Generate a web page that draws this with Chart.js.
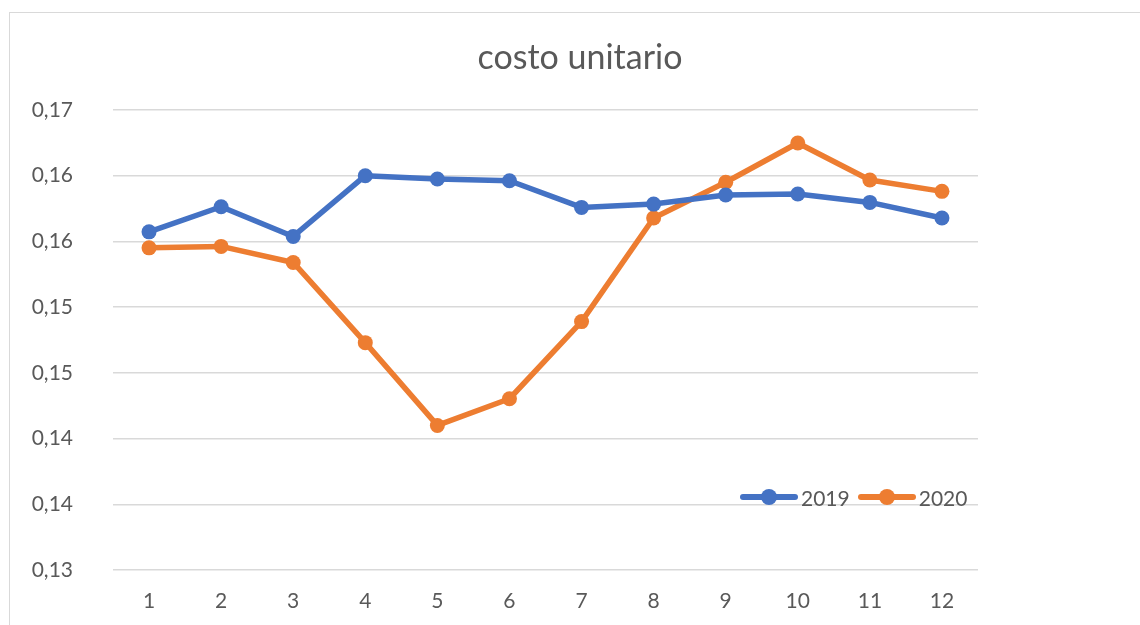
<!DOCTYPE html>
<html>
<head>
<meta charset="utf-8">
<script src="https://cdn.jsdelivr.net/npm/chart.js@4/dist/chart.umd.min.js"></script>
<style>
  html, body { margin: 0; padding: 0; background: #fff; }
  #wrap { position: relative; width: 1140px; height: 625px; overflow: hidden; font-family: Lato, "Open Sans", sans-serif; }
  #frame { position: absolute; left: 9px; top: 12px; width: 1200px; height: 700px; border: 1px solid #d9d9d9; box-sizing: border-box; }
  #title { position: absolute; left: 380px; width: 400px; top: 35px; text-align: center; font-size: 34px; color: #595959; line-height: 42px; }
  #legend { position: absolute; left: 740px; top: 484px; height: 26px; display: flex; align-items: center; font-size: 21px; color: #595959; }
  .item { display: flex; align-items: center; margin-right: 8px; }
  .mark { position: relative; width: 58px; height: 16px; margin-right: 3px; }
  .mark .ln { position: absolute; left: 0; right: 0; top: 5px; height: 6px; border-radius: 3px; }
  .mark .pt { position: absolute; left: 21px; top: 0; width: 16px; height: 16px; border-radius: 50%; }
  canvas { position: absolute; left: 0; top: 0; }
</style>
</head>
<body>
<div id="wrap">
  <div id="frame"></div>
  <canvas id="c" width="1140" height="625"></canvas>
  <div id="title">costo unitario</div>
  <div id="legend"></div>
</div>
<script>
const categories = ['1','2','3','4','5','6','7','8','9','10','11','12'];
const series2019 = [0.16073, 0.16264, 0.16038, 0.16500, 0.16475, 0.16462, 0.16259, 0.16284, 0.16353, 0.16361, 0.16297, 0.16178];
const series2020 = [0.15951, 0.15962, 0.15840, 0.15230, 0.14600, 0.14803, 0.15390, 0.16178, 0.16450, 0.16749, 0.16467, 0.16381];
const yTickValues = [0.135, 0.140, 0.145, 0.150, 0.155, 0.160, 0.165, 0.170];
const yTickLabels = ['0,13', '0,14', '0,14', '0,15', '0,15', '0,16', '0,16', '0,17'];
const seriesNames = ['2019', '2020'];
const colors = ['#4472C4', '#ED7D31'];

const legend = document.getElementById('legend');
seriesNames.forEach((n, i) => {
  const it = document.createElement('div');
  it.className = 'item';
  it.innerHTML = '<div class="mark"><div class="ln" style="background:' + colors[i] + '"></div><div class="pt" style="background:' + colors[i] + '"></div></div><span>' + n + '</span>';
  legend.appendChild(it);
});

const font = { family: 'Lato, "Open Sans", sans-serif', size: 21 };
new Chart(document.getElementById('c'), {
  type: 'line',
  data: {
    labels: categories,
    datasets: [series2019, series2020].map((d, i) => ({
      label: seriesNames[i],
      data: d,
      borderColor: colors[i],
      backgroundColor: colors[i],
      borderWidth: 5.5,
      pointRadius: 7.5,
      pointHoverRadius: 7.5,
      pointBorderWidth: 0,
      tension: 0,
      borderJoinStyle: 'round',
      borderCapStyle: 'round'
    }))
  },
  options: {
    responsive: false,
    animation: false,
    layout: { padding: { left: 0, right: 162, top: 110, bottom: 0 } },
    plugins: { legend: { display: false }, title: { display: false }, tooltip: { enabled: false } },
    scales: {
      x: {
        offset: true,
        grid: { display: false, drawTicks: false },
        border: { display: false },
        ticks: { color: '#595959', font: font, padding: 19, maxRotation: 0 },
        afterFit: s => { s.height = 55; }
      },
      y: {
        min: 0.135, max: 0.170,
        grid: { color: '#d9d9d9', lineWidth: 1.5, drawTicks: false },
        border: { display: false },
        afterBuildTicks: s => { s.ticks = yTickValues.map(v => ({ value: v })); },
        ticks: { color: '#595959', font: font, padding: 40, callback: (v, i) => yTickLabels[i] },
        afterFit: s => { s.width = 113; }
      }
    }
  }
});
</script>
</body>
</html>
